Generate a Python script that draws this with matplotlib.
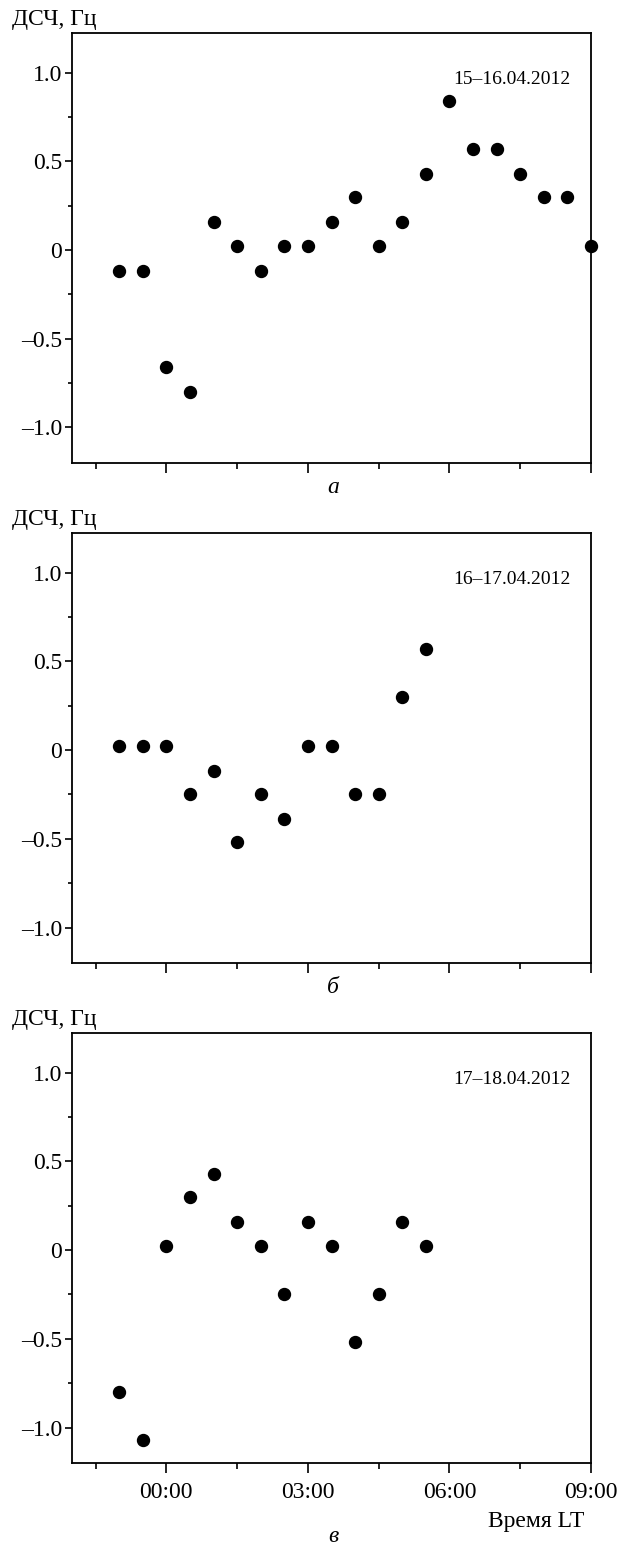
import matplotlib
matplotlib.use('Agg')
import matplotlib.pyplot as plt
from matplotlib.ticker import FixedLocator

# datos (hora local, ДСЧ en Гц)
hora_a = [-1.0, -0.5, 0.0, 0.5, 1.0, 1.5, 2.0, 2.5, 3.0, 3.5, 4.0,
          4.5, 5.0, 5.5, 6.0, 6.5, 7.0, 7.5, 8.0, 8.5, 9.0]
dsch_a = [-0.12, -0.12, -0.66, -0.80, 0.16, 0.02, -0.12, 0.02, 0.02, 0.16, 0.30,
          0.02, 0.16, 0.43, 0.84, 0.57, 0.57, 0.43, 0.30, 0.30, 0.02]

hora_b = [-1.0, -0.5, 0.0, 0.5, 1.0, 1.5, 2.0, 2.5, 3.0, 3.5, 4.0, 4.5, 5.0, 5.5]
dsch_b = [0.02, 0.02, 0.02, -0.25, -0.12, -0.52, -0.25, -0.39, 0.02, 0.02, -0.25, -0.25, 0.30, 0.57]

hora_c = [-1.0, -0.5, 0.0, 0.5, 1.0, 1.5, 2.0, 2.5, 3.0, 3.5, 4.0, 4.5, 5.0, 5.5]
dsch_c = [-0.80, -1.07, 0.02, 0.30, 0.43, 0.16, 0.02, -0.25, 0.16, 0.02, -0.52, -0.25, 0.16, 0.02]

fechas = ['15\u201316.04.2012', '16\u201317.04.2012', '17\u201318.04.2012']
letras = ['\u0430', '\u0431', '\u0432']

xticks_mayor = [0, 3, 6, 9]
xticks_menor = [-1.5, 1.5, 4.5, 7.5]
xtick_labels = ['00:00', '03:00', '06:00', '09:00']
yticks_mayor = [-1.0, -0.5, 0, 0.5, 1.0]
yticks_menor = [-0.75, -0.25, 0.25, 0.75]
ytick_labels = ['\u20131.0', '\u20130.5', '0', '0.5', '1.0']

serif = ['Liberation Serif', 'DejaVu Serif']
plt.rcParams['font.family'] = serif

fig = plt.figure(figsize=(6.3, 15.49), dpi=100)

bottoms = [0.7011, 0.3783, 0.0555]
series = [(hora_a, dsch_a), (hora_b, dsch_b), (hora_c, dsch_c)]

for i in range(3):
    ax = fig.add_axes([0.1143, bottoms[i], 0.8238, 0.2773])
    x, y = series[i]
    ax.plot(x, y, 'o', color='black', markersize=8.6, clip_on=False)

    ax.set_xlim(-2, 9)
    ax.set_ylim(-1.2, 1.22)

    ax.xaxis.set_major_locator(FixedLocator(xticks_mayor))
    ax.xaxis.set_minor_locator(FixedLocator(xticks_menor))
    ax.yaxis.set_major_locator(FixedLocator(yticks_mayor))
    ax.yaxis.set_minor_locator(FixedLocator(yticks_menor))
    ax.set_yticklabels(ytick_labels)
    if i == 2:
        ax.set_xticklabels(xtick_labels)
    else:
        ax.set_xticklabels([''] * 4)

    ax.tick_params(axis='x', which='major', length=7, width=1.2, pad=7, labelsize=17)
    ax.tick_params(axis='x', which='minor', length=4.3, width=1.2)
    ax.tick_params(axis='y', which='major', length=5, width=1.2, pad=2, labelsize=17)
    ax.tick_params(axis='y', which='minor', length=3, width=1.2)
    for s in ax.spines.values():
        s.set_linewidth(1.3)

    ax.text(-0.1156, 1.033, '\u0414\u0421\u0427, \u0413\u0446', transform=ax.transAxes,
            fontsize=17, ha='left', va='center')
    ax.text(0.96, 0.892, fechas[i], transform=ax.transAxes,
            fontsize=14, ha='right', va='center')

    if i == 2:
        ax.text(0.988, -0.137, '\u0412\u0440\u0435\u043c\u044f LT', transform=ax.transAxes,
                fontsize=17, ha='right', va='center')
        ax.text(0.503, -0.17, letras[i], transform=ax.transAxes,
                fontsize=17, style='italic', ha='center', va='center')
    else:
        ax.text(0.503, -0.056, letras[i], transform=ax.transAxes,
                fontsize=17, style='italic', ha='center', va='center')

fig.savefig('out.png', dpi=100)
